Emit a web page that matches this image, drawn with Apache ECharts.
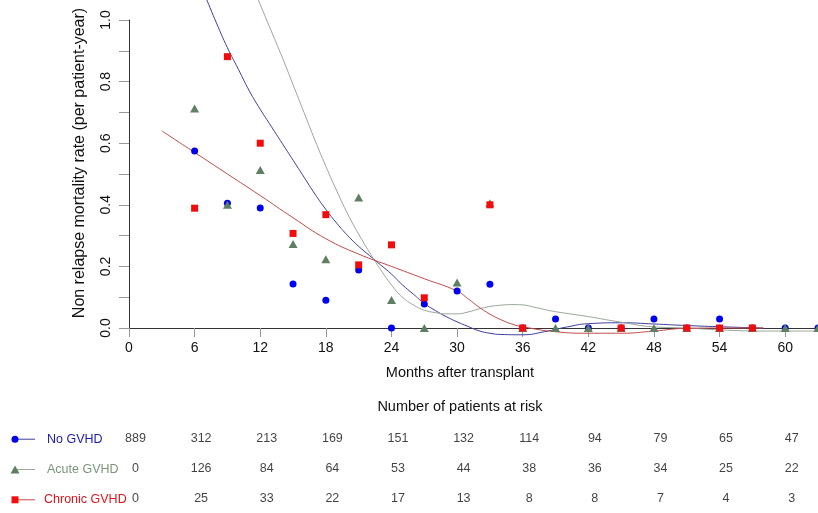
<!DOCTYPE html>
<html><head><meta charset="utf-8">
<script src="https://cdn.jsdelivr.net/npm/echarts@6/dist/echarts.min.js"></script>
<style>html,body{margin:0;padding:0;background:#fff}#c{width:818px;height:513px}</style>
</head><body><div id="c"></div>
<script>
// ---- data ----
const months = [6,9,12,15,18,21,24,27,30,33,36,39,42,45,48,51,54,57,60,63];
const noGvhd      = [0.575,0.405,0.39,0.143,0.09,0.188,0,0.078,0.12,0.142,0,0.029,0,0,0.029,0,0.029,0,0,0];
const acuteGvhd   = [0.713,0.40,0.513,0.273,0.223,0.424,0.091,0,0.148,0.405,0,0,0,0,0,0,0,0,0,0];
const chronicGvhd = [0.389,0.881,0.60,0.307,0.368,0.205,0.27,0.098,null,0.40,0,null,null,0,null,0,0,0,null,null];

// smoothed (loess) curves: [month, rate]
const noGvhdCurve = [[6,1.16],[7,1.075],[8,0.99],[9,0.91],[10,0.84],[11,0.77],[12,0.71],[13,0.655],[14,0.60],[15,0.545],[16,0.49],[17,0.435],[18,0.385],[19,0.34],[20,0.30],[21,0.265],[22,0.235],[23,0.205],[24,0.175],[25,0.14],[26,0.11],[27,0.08],[28,0.057],[29,0.037],[30,0.02],[31,0.005],[32,-0.009],[33,-0.017],[34,-0.021],[36,-0.022],[38,-0.012],[40,0.003],[42,0.014],[45,0.017],[48,0.013],[51,0.008],[55,0.003],[58,0.0]];
const acuteGvhdCurve = [[10,1.22],[11,1.135],[12,1.05],[13,0.965],[14,0.88],[15,0.79],[16,0.70],[17,0.61],[18,0.525],[19,0.445],[20,0.37],[21,0.305],[22,0.245],[23,0.19],[24,0.14],[25,0.10],[26,0.075],[27,0.058],[28,0.05],[29,0.046],[30,0.046],[31,0.052],[32,0.062],[33,0.07],[34,0.074],[35,0.076],[36,0.075],[37,0.068],[38,0.06],[39,0.053],[42,0.037],[44.8,0.02],[47.9,0.004],[51,0],[54,-0.006],[58.3,-0.01],[63,-0.01]];
const chronicGvhdCurve = [[3,0.64],[6,0.57],[9,0.50],[12,0.43],[15,0.358],[18,0.29],[21,0.24],[24,0.20],[27,0.16],[30,0.12],[31,0.095],[32,0.068],[33,0.045],[34,0.027],[35,0.013],[36,0.004],[39,-0.012],[42,-0.017],[45,-0.017],[48,-0.01],[51,-0.001],[54,0],[58,0]];

const xTicks = [0,6,12,18,24,30,36,42,48,54,60];
const yTickMarks = [0,0.1,0.2,0.3,0.4,0.5,0.6,0.7,0.8,0.9,1.0];
const yTickLabels = [0,0.2,0.4,0.6,0.8,1.0];

const groupNames = ['No GVHD','Acute GVHD','Chronic GVHD'];
const riskMonths = [0,6,12,18,24,30,36,42,48,54,60];
const riskNo      = [889,312,213,169,151,132,114,94,79,65,47];
const riskAcute   = [0,126,84,64,53,44,38,36,34,25,22];
const riskChronic = [0,25,33,22,17,13,8,8,7,4,3];

// ---- styling ----
const FONT = "'Liberation Sans', Arial, sans-serif";
const ptColors = ['#0000f0','#607f62','#f20d0d'];
const lineColors = ['#3d3d9e','#9aa79a','#c44a4a'];
const textColors = ['#1a1ab4','#7a967a','#e0141c'];
const symbols = ['circle','triangle','rect'];
const symSizes = [7,[9,8],7];

function pairs(xs, ys){ const out=[]; xs.forEach((x,i)=>{ if(ys[i]!==null && ys[i]!==undefined) out.push([x,ys[i]]); }); return out; }

const pointSets = [noGvhd, acuteGvhd, chronicGvhd];
const curveSets = [noGvhdCurve, acuteGvhdCurve, chronicGvhdCurve];
const riskSets = [riskNo, riskAcute, riskChronic];

const series = [];
curveSets.forEach((c,i)=>{
  series.push({type:'line', xAxisIndex:0, yAxisIndex:0, data:c, smooth:0.5, showSymbol:false, clip:false,
    lineStyle:{color:lineColors[i], width:1}, z:2, silent:true});
});
pointSets.forEach((p,i)=>{
  series.push({type:'scatter', xAxisIndex:0, yAxisIndex:0, data:pairs(months,p), symbol:symbols[i], symbolSize:symSizes[i],
    itemStyle:{color:ptColors[i], opacity:1}, clip:false, z:3+i, silent:true});
});
riskSets.forEach((r,i)=>{
  series.push({type:'scatter', xAxisIndex:1, yAxisIndex:1, symbolSize:0.1, itemStyle:{color:'rgba(0,0,0,0)'},
    data: riskMonths.map((m,k)=>[m, groupNames[i], r[k]]),
    label:{show:true, position:'inside', offset:[6.5,0], formatter:(p)=>String(p.value[2]), color:'#111', fontSize:12.5, fontFamily:FONT},
    silent:true});
});

// legend-like row labels
const rowY = [439.2, 469.5, 499.8];
const graphics = [];
groupNames.forEach((g,i)=>{
  const y = rowY[i];
  graphics.push({type:'line', shape:{x1:17,y1:y,x2:35,y2:y}, style:{stroke:lineColors[i], lineWidth:1}});
  if(i===0) graphics.push({type:'circle', shape:{cx:15,cy:y,r:3.5}, style:{fill:ptColors[i]}});
  if(i===1) graphics.push({type:'polygon', shape:{points:[[15,y-4],[19.5,y+4],[10.5,y+4]]}, style:{fill:ptColors[i]}});
  if(i===2) graphics.push({type:'rect', shape:{x:11.5,y:y-3.5,width:7,height:7}, style:{fill:ptColors[i]}});
  graphics.push({type:'text', x: i===2?44:47, y:y, style:{text:g, fill:textColors[i], font:'12.5px '+FONT, textAlign:'left', textVerticalAlign:'middle'}});
});
graphics.push({type:'text', x:460, y:373, style:{text:'Months after transplant', fill:'#111', font:'14.5px '+FONT, textAlign:'center', textVerticalAlign:'middle'}});
graphics.push({type:'text', x:460, y:407, style:{text:'Number of patients at risk', fill:'#111', font:'14.5px '+FONT, textAlign:'center', textVerticalAlign:'middle'}});
graphics.push({type:'text', x:80, y:163, rotation:Math.PI/2, style:{text:'Non relapse mortality rate (per patient-year)', fill:'#111', font:'16px '+FONT, textAlign:'center', textVerticalAlign:'middle'}});

const chart = echarts.init(document.getElementById('c'), null, {renderer:'canvas'});
chart.setOption({
  animation:false,
  backgroundColor:'#fff',
  grid:[
    {left:129, top:20, width:690, height:308},
    {left:129, top:424, width:690, height:91}
  ],
  xAxis:[
    {type:'value', gridIndex:0, min:0, max:63, interval:6,
     axisLine:{show:true, lineStyle:{color:'#333', width:1}},
     axisTick:{show:true, length:9, lineStyle:{color:'#999'}, customValues:xTicks},
     axisLabel:{show:true, margin:13, fontSize:14, color:'#111', fontFamily:FONT, customValues:xTicks, formatter:(v)=>String(v)},
     splitLine:{show:false}},
    {type:'value', gridIndex:1, min:0, max:63, show:false, splitLine:{show:false}}
  ],
  yAxis:[
    {type:'value', gridIndex:0, min:0, max:1, interval:0.1,
     axisLine:{show:true, lineStyle:{color:'#333', width:1}},
     axisTick:{show:true, length:10, lineStyle:{color:'#999'}, customValues:yTickMarks},
     axisLabel:{show:true, rotate:90, margin:16, fontSize:14, color:'#111', fontFamily:FONT, customValues:yTickLabels, formatter:(v)=>v.toFixed(1)},
     splitLine:{show:false}},
    {type:'category', gridIndex:1, data:groupNames, inverse:true, show:false}
  ],
  graphic:graphics,
  series:series
});
</script>
</body></html>
